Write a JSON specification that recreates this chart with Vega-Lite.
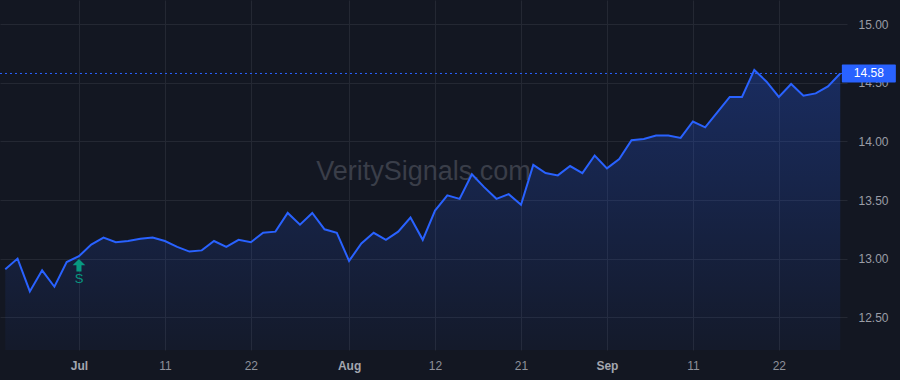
{
  "$schema": "https://vega.github.io/schema/vega-lite/v6.json",
  "width": 847,
  "height": 350,
  "autosize": {"type": "none"},
  "padding": {"left": 0, "top": 0, "right": 53, "bottom": 30},
  "background": "#131722",
  "config": {
    "view": {"stroke": null},
    "font": "Liberation Sans",
    "axis": {"domain": false, "ticks": false, "gridColor": "#242833", "gridWidth": 1, "labelFont": "Liberation Sans", "labelFontSize": 12}
  },
  "datasets": {
    "series": [
      {"i": 0, "close": 12.91}, {"i": 1, "close": 13.00}, {"i": 2, "close": 12.72}, {"i": 3, "close": 12.90},
      {"i": 4, "close": 12.76}, {"i": 5, "close": 12.97}, {"i": 6, "close": 13.02}, {"i": 7, "close": 13.12},
      {"i": 8, "close": 13.18}, {"i": 9, "close": 13.14}, {"i": 10, "close": 13.15}, {"i": 11, "close": 13.17},
      {"i": 12, "close": 13.18}, {"i": 13, "close": 13.15}, {"i": 14, "close": 13.10}, {"i": 15, "close": 13.06},
      {"i": 16, "close": 13.07}, {"i": 17, "close": 13.15}, {"i": 18, "close": 13.10}, {"i": 19, "close": 13.16},
      {"i": 20, "close": 13.14}, {"i": 21, "close": 13.22}, {"i": 22, "close": 13.23}, {"i": 23, "close": 13.39},
      {"i": 24, "close": 13.29}, {"i": 25, "close": 13.39}, {"i": 26, "close": 13.25}, {"i": 27, "close": 13.22},
      {"i": 28, "close": 12.98}, {"i": 29, "close": 13.13}, {"i": 30, "close": 13.22}, {"i": 31, "close": 13.16},
      {"i": 32, "close": 13.23}, {"i": 33, "close": 13.35}, {"i": 34, "close": 13.16}, {"i": 35, "close": 13.41},
      {"i": 36, "close": 13.54}, {"i": 37, "close": 13.51}, {"i": 38, "close": 13.72}, {"i": 39, "close": 13.61},
      {"i": 40, "close": 13.51}, {"i": 41, "close": 13.55}, {"i": 42, "close": 13.46}, {"i": 43, "close": 13.80},
      {"i": 44, "close": 13.73}, {"i": 45, "close": 13.71}, {"i": 46, "close": 13.79}, {"i": 47, "close": 13.73},
      {"i": 48, "close": 13.88}, {"i": 49, "close": 13.77}, {"i": 50, "close": 13.85}, {"i": 51, "close": 14.01},
      {"i": 52, "close": 14.02}, {"i": 53, "close": 14.05}, {"i": 54, "close": 14.05}, {"i": 55, "close": 14.03},
      {"i": 56, "close": 14.17}, {"i": 57, "close": 14.12}, {"i": 58, "close": 14.25}, {"i": 59, "close": 14.38},
      {"i": 60, "close": 14.38}, {"i": 61, "close": 14.61}, {"i": 62, "close": 14.51}, {"i": 63, "close": 14.38},
      {"i": 64, "close": 14.49}, {"i": 65, "close": 14.39}, {"i": 66, "close": 14.41}, {"i": 67, "close": 14.47},
      {"i": 68, "close": 14.58}
    ],
    "signal": [{"i": 6, "close": 13.02, "label": "S"}],
    "last": [{"i": 68, "close": 14.58, "label": "14.58"}],
    "watermark": [{"text": "VeritySignals.com"}]
  },
  "data": {"name": "series"},
  "layer": [
    {
      "mark": {"type": "area", "line": false, "color": {"x1": 0, "y1": 0, "x2": 0, "y2": 1, "gradient": "linear", "stops": [{"offset": 0, "color": "rgba(41,98,255,0.28)"}, {"offset": 1, "color": "rgba(41,98,255,0.04)"}]}},
      "encoding": {
        "x": {"field": "i", "type": "quantitative", "scale": {"domain": [-0.43, 68.55], "nice": false, "zero": false},
          "axis": {"title": null, "values": [6, 13, 20, 28, 35, 42, 49, 56, 63], "grid": true, "labelPadding": 10,
            "labelExpr": "datum.value == 6 ? 'Jul' : datum.value == 13 ? '11' : datum.value == 20 ? '22' : datum.value == 28 ? 'Aug' : datum.value == 35 ? '12' : datum.value == 42 ? '21' : datum.value == 49 ? 'Sep' : datum.value == 56 ? '11' : '22'",
            "labelFontWeight": {"condition": {"test": "datum.value == 6 || datum.value == 28 || datum.value == 49", "value": "bold"}, "value": "normal"},
            "labelColor": {"condition": {"test": "datum.value == 6 || datum.value == 28 || datum.value == 49", "value": "#a3a6af"}, "value": "#8e919a"}}},
        "y": {"field": "close", "type": "quantitative", "scale": {"domain": [12.22, 15.207], "nice": false, "zero": false},
          "axis": {"title": null, "orient": "right", "values": [12.5, 13, 13.5, 14, 14.5, 15], "format": ".2f", "grid": true, "labelPadding": 11, "labelColor": "#9a9da6"}},
        "y2": {"datum": 12.22}
      }
    },
    {
      "data": {"name": "watermark"},
      "mark": {"type": "text", "fontSize": 27, "color": "#3a3e49", "align": "center", "baseline": "middle"},
      "encoding": {
        "x": {"datum": 34.06, "type": "quantitative"},
        "y": {"datum": 13.738, "type": "quantitative"},
        "text": {"field": "text"}
      }
    },
    {
      "mark": {"type": "line", "color": "#2962ff", "strokeWidth": 2},
      "encoding": {"x": {"field": "i", "type": "quantitative"}, "y": {"field": "close", "type": "quantitative"}}
    },
    {
      "data": {"name": "last"},
      "mark": {"type": "rule", "color": "#2962ff", "strokeWidth": 1, "strokeDash": [2, 3]},
      "encoding": {"y": {"field": "close", "type": "quantitative"}}
    },
    {
      "data": {"name": "signal"},
      "mark": {"type": "point", "filled": true, "color": "#089981", "opacity": 1, "size": 160, "yOffset": 9,
        "shape": "M0,-1L1,0L0.4,0L0.4,1L-0.4,1L-0.4,0L-1,0Z"},
      "encoding": {"x": {"field": "i", "type": "quantitative"}, "y": {"field": "close", "type": "quantitative"}}
    },
    {
      "data": {"name": "signal"},
      "mark": {"type": "text", "color": "#089981", "fontSize": 13, "dy": 23, "align": "center", "baseline": "middle"},
      "encoding": {"x": {"field": "i", "type": "quantitative"}, "y": {"field": "close", "type": "quantitative"}, "text": {"field": "label"}}
    },
    {
      "data": {"name": "last"},
      "mark": {"type": "rect", "color": "#2962ff", "width": 54, "height": 18, "cornerRadius": 1},
      "encoding": {"x": {"datum": 70.33, "type": "quantitative"}, "y": {"field": "close", "type": "quantitative"}}
    },
    {
      "data": {"name": "last"},
      "mark": {"type": "text", "color": "#ffffff", "fontSize": 12, "align": "center", "baseline": "middle"},
      "encoding": {"x": {"datum": 70.33, "type": "quantitative"}, "y": {"field": "close", "type": "quantitative"}, "text": {"field": "label"}}
    }
  ]
}
